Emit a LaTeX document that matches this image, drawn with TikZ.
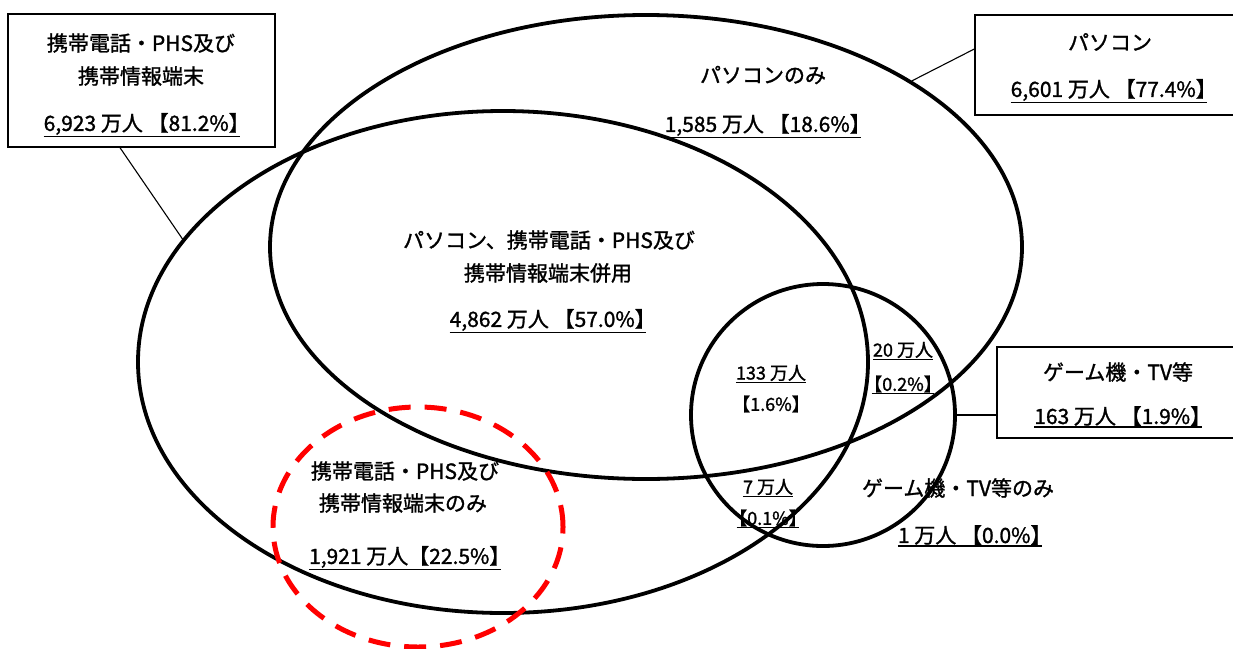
\documentclass[tikz,border=0pt]{standalone}
\usepackage{fontspec}
\setmainfont{Noto Sans CJK JP}[FakeBold=1.3]
\usetikzlibrary{shapes.geometric}
\definecolor{hlred}{RGB}{255,0,0}
\newcommand\slb{\kern-.42em【}
\newcommand\srb{】\kern-.42em}
\newcommand\brb{】\kern-.45em}
\begin{document}
\begin{tikzpicture}[x=1pt,y=-1pt,
  venn/.style={draw, ellipse, line width=3.8pt, inner sep=0pt},
  lbox/.style={draw, rectangle, line width=1.4pt, inner sep=0pt},
  lead/.style={line width=1.1pt},
  big/.style={font=\fontsize{21}{24}\selectfont, inner sep=0pt},
  sml/.style={font=\fontsize{18}{21}\selectfont, inner sep=0pt},
  ul/.style={inner xsep=0pt, inner ysep=1.2pt},
  uline/.style={line width=1.4pt},
  hldash/.style={draw=hlred, ellipse, line width=5pt, dash pattern=on 22pt off 14pt, inner sep=0pt}
]
\useasboundingbox (0,0) rectangle (1233,648);

% Venn ellipses
\node[venn, minimum width=730pt, minimum height=502pt] (mob) at (503,362) {};
\node[venn, minimum width=752pt, minimum height=464pt] (pc) at (646,247) {};
\node[venn, minimum width=264pt, minimum height=262pt] (gm) at (823,415) {};

% Label boxes
\node[lbox, minimum width=267pt, minimum height=133pt] (tlbox) at (141.5,80.5) {};
\node[lbox, minimum width=265pt, minimum height=100pt] (trbox) at (1107.5,65) {};
\node[lbox, minimum width=243pt, minimum height=91pt] (rbox) at (1118.5,392.5) {};

% Leaders
\draw[lead] ([xshift=-21.5pt]tlbox.south) -- (mob.159.6);
\draw[lead] ([yshift=16pt]trbox.west) -- (pc.32.1);
\draw[lead] (gm.east) -- (gm.east -| rbox.west);

% Box texts
\node[big] (tl1) at (141,43) {携帯電話・PHS及び};
\node[big] (tl2) at (141,76) {携帯情報端末};
\node[big, ul] (tl3) at (142,124) {6,923 万人 【81.2\%\brb};
\draw[uline] (tl3.south west) -- (tl3.south east);

\node[big] (tr1) at (1110,42) {パソコン};
\node[big, ul] (tr2) at (1109,90) {6,601 万人 【77.4\%\brb};
\draw[uline] (tr2.south west) -- (tr2.south east);

\node[big] (rb1) at (1118,372) {ゲーム機・TV等};
\node[big, ul] (rb2) at (1118,416) {163 万人 【1.9\%\brb};
\draw[uline] (rb2.south west) -- (rb2.south east);

% Region texts
\node[big] (po1) at (763,75) {パソコンのみ};
\node[big, ul] (po2) at (763,125) {1,585 万人 【18.6\%\brb};
\draw[uline] (po2.south west) -- (po2.south east);

\node[big] (bo1) at (549,240) {パソコン、携帯電話・PHS及び};
\node[big] (bo2) at (548,273) {携帯情報端末併用};
\node[big, ul] (bo3) at (548,320) {4,862 万人 【57.0\%\brb};
\draw[uline] (bo3.south west) -- (bo3.south east);

\node[big] (mo1) at (405,471) {携帯電話・PHS及び};
\node[big] (mo2) at (403,503) {携帯情報端末のみ};
\node[big, ul] (mo3) at (405,557) {1,921 万人【22.5\%\brb};
\draw[uline] (mo3.south west) -- (mo3.south east);

\node[sml, ul] (al1) at (771,373) {133 万人};
\draw[uline] (al1.south west) -- (al1.south east);
\node[sml] (al2) at (771,404) {\slb 1.6\%\srb};

\node[sml, ul] (pg1) at (903,350) {20 万人};
\draw[uline] (pg1.south west) -- (pg1.south east);
\node[sml, ul] (pg2) at (903,384) {\slb 0.2\%\srb};
\draw[uline] (pg2.south west) -- (pg2.south east);

\node[sml, ul] (mg1) at (768,487) {7 万人};
\draw[uline] (mg1.south west) -- (mg1.south east);
\node[sml, ul] (mg2) at (768,518) {\slb 0.1\%\srb};
\draw[uline] (mg2.south west) -- (mg2.south east);

\node[big] (go1) at (958,488) {ゲーム機・TV等のみ};
\node[big, ul] (go2) at (970,535) {1 万人 【0.0\%\brb};
\draw[uline] (go2.south west) -- (go2.south east);

% Highlight
\node[hldash, minimum width=290pt, minimum height=240pt] (hl) at (418,527) {};
\end{tikzpicture}
\end{document}
